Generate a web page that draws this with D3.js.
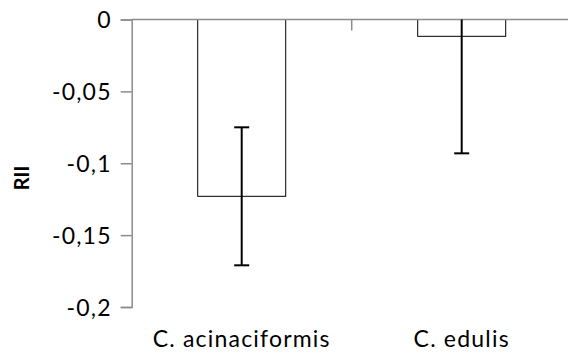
<!DOCTYPE html>
<html><head><meta charset="utf-8">
<script src="https://cdn.jsdelivr.net/npm/d3@7"></script>
<style>body{margin:0;background:#fff}svg{display:block}</style>
</head><body>
<script>
const categories = ["C. acinaciformis", "C. edulis"];
const means = [-0.123, -0.0117];
const errors = [0.048, 0.0814];
const yTicks = [0, -0.05, -0.1, -0.15, -0.2];
const yTickLabels = ["0", "-0,05", "-0,1", "-0,15", "-0,2"];
const yLabel = "RII";

const W = 568, H = 354;
const svg = d3.select("body").append("svg").attr("width", W).attr("height", H);
const font = "Lato, 'Open Sans', sans-serif";
const axisColor = "#8c8c8c";

const x = d3.scaleBand().domain(categories).range([131.7, 571.7]).padding(0);
const y = d3.scaleLinear().domain([-0.2, 0]).range([307, 19.5]);
const barW = x.bandwidth() * 0.4;

// y axis
const yAxis = d3.axisLeft(y).tickValues(yTicks).tickSize(11).tickFormat((d, i) => yTickLabels[i]);
const gy = svg.append("g").attr("transform", "translate(131.7,0)").call(yAxis);
gy.select(".domain").attr("stroke", axisColor).attr("stroke-width", 1.5);
gy.selectAll(".tick line").attr("stroke", axisColor).attr("stroke-width", 1.5);
gy.selectAll(".tick text").attr("font-family", font).attr("font-size", 23).attr("fill", "#000")
  .attr("letter-spacing", 1.2).attr("x", -20).attr("dy", "0.36em");

// bars
svg.selectAll("rect.bar").data(categories).join("rect")
  .attr("class", "bar")
  .attr("x", d => x(d) + (x.bandwidth() - barW) / 2)
  .attr("y", y(0))
  .attr("width", barW)
  .attr("height", (d, i) => y(means[i]) - y(0))
  .attr("fill", "#fff").attr("stroke", "#000").attr("stroke-width", 1);

// x axis (at zero, top)
svg.append("line").attr("x1", 131.7).attr("x2", W).attr("y1", y(0)).attr("y2", y(0))
  .attr("stroke", axisColor).attr("stroke-width", 1.5);
svg.append("line").attr("x1", x(categories[1])).attr("x2", x(categories[1]))
  .attr("y1", y(0)).attr("y2", y(0) + 11).attr("stroke", axisColor).attr("stroke-width", 1.5);

// error bars
const capW = 15;
categories.forEach((c, i) => {
  const cx = x(c) + x.bandwidth() / 2;
  const lo = means[i] - errors[i];
  const hi = Math.min(0, means[i] + errors[i]);
  const g = svg.append("g").attr("stroke", "#000").attr("stroke-width", 2);
  g.append("line").attr("x1", cx).attr("x2", cx).attr("y1", y(hi)).attr("y2", y(lo));
  g.append("line").attr("x1", cx - capW / 2).attr("x2", cx + capW / 2).attr("y1", y(lo)).attr("y2", y(lo));
  if (means[i] + errors[i] < 0)
    g.append("line").attr("x1", cx - capW / 2).attr("x2", cx + capW / 2).attr("y1", y(hi)).attr("y2", y(hi));
});

// category labels
svg.selectAll("text.cat").data(categories).join("text")
  .attr("class", "cat")
  .attr("x", d => x(d) + x.bandwidth() / 2)
  .attr("y", 347)
  .attr("text-anchor", "middle")
  .attr("font-family", font).attr("font-size", 23).attr("letter-spacing", 1.2)
  .text(d => d);

// y label
svg.append("text")
  .attr("transform", "translate(29,178) rotate(-90)")
  .attr("text-anchor", "middle")
  .attr("font-family", font).attr("font-size", 20).attr("font-weight", "bold")
  .text(yLabel);
</script>
</body></html>
